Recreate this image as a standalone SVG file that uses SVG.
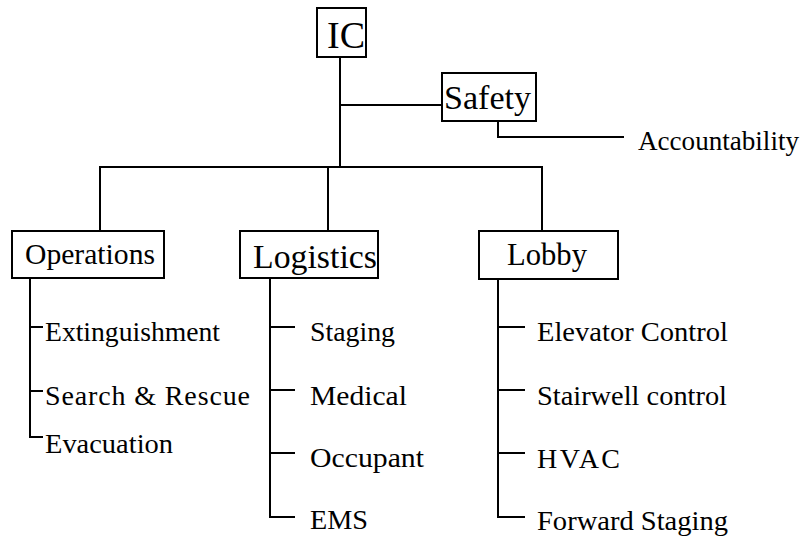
<svg xmlns="http://www.w3.org/2000/svg" width="804" height="537" viewBox="0 0 804 537">
<style>
text{font-family:"Liberation Serif","Times New Roman",serif;fill:#000}
.box{fill:#fff;stroke:#000;stroke-width:2}
.ln{fill:none;stroke:#000;stroke-width:2}
.leaf{font-size:28px}
</style>
<rect width="804" height="537" fill="#fff"/>
<g id="connectors">
<polyline class="ln" points="340,57 340,167"/>
<polyline class="ln" points="340,105 442,105"/>
<polyline class="ln" points="498,121 498,137 624,137"/>
<polyline class="ln" points="100,231 100,167 542,167 542,231"/>
<polyline class="ln" points="328,167 328,231"/>
<polyline class="ln" points="30,278 30,437 43,437"/>
<line class="ln" x1="30" y1="327" x2="43" y2="327"/>
<line class="ln" x1="30" y1="391" x2="43" y2="391"/>
<polyline class="ln" points="270,278 270,517 295,517"/>
<line class="ln" x1="270" y1="327" x2="295" y2="327"/>
<line class="ln" x1="270" y1="390" x2="295" y2="390"/>
<line class="ln" x1="270" y1="453" x2="295" y2="453"/>
<polyline class="ln" points="498,279 498,517 525,517"/>
<line class="ln" x1="498" y1="327" x2="525" y2="327"/>
<line class="ln" x1="498" y1="390" x2="525" y2="390"/>
<line class="ln" x1="498" y1="453" x2="525" y2="453"/>
</g>
<g id="ic">
<rect class="box" x="317" y="8" width="49" height="49"/>
<text x="327" y="48" font-size="38" textLength="38" lengthAdjust="spacingAndGlyphs">IC</text>
</g>
<g id="safety">
<rect class="box" x="442" y="73" width="94" height="48"/>
<text x="444" y="109" font-size="34" textLength="87" lengthAdjust="spacingAndGlyphs">Safety</text>
</g>
<g id="accountability">
<text class="leaf" x="638" y="150" textLength="161" lengthAdjust="spacingAndGlyphs">Accountability</text>
</g>
<g id="operations">
<rect class="box" x="12" y="231" width="152" height="47"/>
<text x="25" y="264" font-size="30" textLength="130" lengthAdjust="spacingAndGlyphs">Operations</text>
</g>
<g id="logistics">
<rect class="box" x="240" y="231" width="138" height="47"/>
<text x="253" y="268" font-size="34" textLength="124" lengthAdjust="spacingAndGlyphs">Logistics</text>
</g>
<g id="lobby">
<rect class="box" x="479" y="231" width="139" height="48"/>
<text x="507" y="265" font-size="31" textLength="80" lengthAdjust="spacingAndGlyphs">Lobby</text>
</g>
<g id="ops-items">
<text class="leaf" x="45" y="341" textLength="175" lengthAdjust="spacingAndGlyphs">Extinguishment</text>
<text class="leaf" x="45" y="405" textLength="205" lengthAdjust="spacing">Search &amp; Rescue</text>
<text class="leaf" x="45" y="453" textLength="128" lengthAdjust="spacingAndGlyphs">Evacuation</text>
</g>
<g id="log-items">
<text class="leaf" x="310" y="341" textLength="85" lengthAdjust="spacingAndGlyphs">Staging</text>
<text class="leaf" x="310" y="405" textLength="97" lengthAdjust="spacingAndGlyphs">Medical</text>
<text class="leaf" x="310" y="467" textLength="114" lengthAdjust="spacingAndGlyphs">Occupant</text>
<text class="leaf" x="310" y="529" textLength="58" lengthAdjust="spacingAndGlyphs">EMS</text>
</g>
<g id="lobby-items">
<text class="leaf" x="537" y="341" textLength="191" lengthAdjust="spacingAndGlyphs">Elevator Control</text>
<text class="leaf" x="537" y="405" textLength="190" lengthAdjust="spacingAndGlyphs">Stairwell control</text>
<text class="leaf" x="537" y="468" textLength="83" lengthAdjust="spacing">HVAC</text>
<text class="leaf" x="537" y="530" textLength="191" lengthAdjust="spacingAndGlyphs">Forward Staging</text>
</g>
</svg>
